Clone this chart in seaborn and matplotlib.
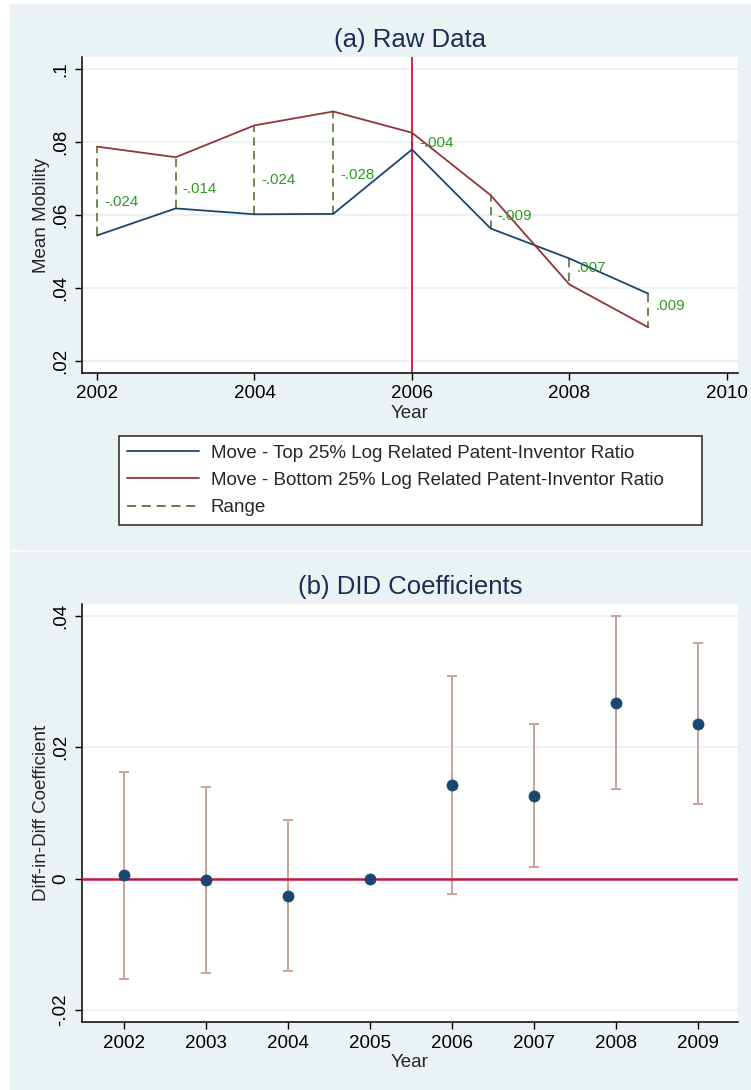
import numpy as np
import pandas as pd
import matplotlib
matplotlib.use("Agg")
import matplotlib.pyplot as plt
import seaborn as sns
from matplotlib.patches import Rectangle
from matplotlib.lines import Line2D

# ---- data ----
years = [2002, 2003, 2004, 2005, 2006, 2007, 2008, 2009]
top25 = [0.0544, 0.0618, 0.0602, 0.0603, 0.0779, 0.0563, 0.0481, 0.0385]
bottom25 = [0.0787, 0.0758, 0.0845, 0.0883, 0.0825, 0.0654, 0.0410, 0.0293]
range_labels = ["-.024", "-.014", "-.024", "-.028", "-.004", "-.009", ".007", ".009"]

did_coef = [0.0005, -0.0002, -0.0026, 0.0000, 0.0142, 0.0126, 0.0268, 0.0236]
did_hi = [0.0162, 0.0139, 0.0089, np.nan, 0.0308, 0.0235, 0.0399, 0.0359]
did_lo = [-0.0153, -0.0143, -0.0140, np.nan, -0.0024, 0.0018, 0.0136, 0.0113]

top_yticks = [0.02, 0.04, 0.06, 0.08, 0.1]
top_yticklabels = [".02", ".04", ".06", ".08", ".1"]
top_xticks = [2002, 2004, 2006, 2008, 2010]
bot_yticks = [-0.02, 0, 0.02, 0.04]
bot_yticklabels = ["-.02", "0", ".02", ".04"]

lbl_top = "Move - Top 25% Log Related Patent-Inventor Ratio"
lbl_bot = "Move - Bottom 25% Log Related Patent-Inventor Ratio"

# colours (Stata s2color-ish)
navy = "#1a476f"
maroon = "#90353b"
forest = "#55752f"
txtgreen = "#2a9a22"
cranberry = "#c8173f"
rose = "#c9a39c"
bg = "#eaf2f3"
titlec = "#1c2c55"

sns.set_style("ticks")
plt.rcParams["font.family"] = ["Liberation Sans", "DejaVu Sans"]

fig = plt.figure(figsize=(7.51, 10.90), dpi=100)
fig.patch.set_facecolor("white")
W, H = 751, 1090
fig.patches.append(Rectangle((10 / W, 1 - 549 / H), 1 - 10 / W, (549 - 4) / H,
                             transform=fig.transFigure, color=bg, zorder=-10))
fig.patches.append(Rectangle((10 / W, 1 - 1089 / H), 1 - 10 / W, (1089 - 552) / H,
                             transform=fig.transFigure, color=bg, zorder=-10))

ax1 = fig.add_axes([82 / W, 1 - 373 / H, (738 - 82) / W, (373 - 57) / H])
ax2 = fig.add_axes([82 / W, 1 - 1022 / H, (738 - 82) / W, (1022 - 604) / H])


def style_axes(ax):
    ax.set_facecolor("white")
    for s in ["top", "right"]:
        ax.spines[s].set_visible(False)
    for s in ["left", "bottom"]:
        ax.spines[s].set_linewidth(1.1)
        ax.spines[s].set_color("black")
    ax.tick_params(axis="both", direction="out", length=5, width=1.0, labelsize=13.5,
                   pad=4, colors="black")
    ax.grid(axis="y", color=bg, linewidth=1.6)
    ax.set_axisbelow(True)


# ---- (a) Raw data ----
df = pd.DataFrame({"year": years * 2,
                   "value": top25 + bottom25,
                   "group": [lbl_top] * len(years) + [lbl_bot] * len(years)})
style_axes(ax1)
sns.lineplot(data=df, x="year", y="value", hue="group",
             palette={lbl_top: navy, lbl_bot: maroon}, linewidth=1.3,
             legend=False, ax=ax1, zorder=3)
ax1.vlines(years, top25, bottom25, colors=forest, linestyles=(0, (5, 3.2)),
           linewidth=1.2, zorder=2)
for yr, t, b, lab in zip(years, top25, bottom25, range_labels):
    ax1.text(yr + 0.09, 0.62 * t + 0.38 * b, lab, color=txtgreen, fontsize=10.8,
             ha="left", va="center", zorder=4)
ax1.axvline(2006, color=cranberry, linewidth=1.3, zorder=2)
ax1.set_xlim(2001.81, 2010.14)
ax1.set_ylim(0.0168, 0.1032)
ax1.set_xticks(top_xticks)
ax1.set_yticks(top_yticks)
ax1.set_yticklabels(top_yticklabels)
plt.setp(ax1.get_yticklabels(), rotation=90, va="center")
ax1.set_xlabel("Year", fontsize=13.5, labelpad=2)
ax1.set_ylabel("Mean Mobility", fontsize=13.5, labelpad=2)
ax1.set_title("(a) Raw Data", fontsize=18.5, color=titlec, pad=7.5)

handles = [Line2D([], [], color=navy, lw=1.3),
           Line2D([], [], color=maroon, lw=1.3),
           Line2D([], [], color=forest, lw=1.3, linestyle=(0, (5, 3.2)))]
leg = fig.legend(handles, [lbl_top, lbl_bot, "Range"], loc="upper left",
                 bbox_to_anchor=(119 / W, 1 - 436 / H - 0.01, (702 - 119) / W, 0.01),
                 mode="expand", fontsize=13.5, framealpha=1,
                 frameon=True, fancybox=False, handlelength=3.8, handletextpad=0.65,
                 borderpad=0.45, labelspacing=0.55, borderaxespad=0)
leg.get_frame().set_edgecolor("#333333")
leg.get_frame().set_linewidth(1.2)
leg.get_frame().set_facecolor("white")

# ---- (b) DID coefficients ----
style_axes(ax2)
coef = np.array(did_coef)
yerr = np.vstack([coef - np.array(did_lo), np.array(did_hi) - coef])
ax2.errorbar(years, did_coef, yerr=yerr, fmt="none", ecolor=rose, elinewidth=1.4,
             capsize=3.8, capthick=1.4, zorder=2)
ax2.axhline(0, color=cranberry, linewidth=1.8, zorder=3)
sns.scatterplot(x=years, y=did_coef, color=navy, s=64, edgecolor=navy,
                linewidth=0.5, ax=ax2, zorder=4)
ax2.set_xlim(2001.49, 2009.49)
ax2.set_ylim(-0.0218, 0.0418)
ax2.set_xticks(years)
ax2.set_yticks(bot_yticks)
ax2.set_yticklabels(bot_yticklabels)
plt.setp(ax2.get_yticklabels(), rotation=90, va="center")
ax2.set_xlabel("Year", fontsize=13.5, labelpad=2)
ax2.set_ylabel("Diff-in-Diff Coefficient", fontsize=13.5, labelpad=2)
ax2.set_title("(b) DID Coefficients", fontsize=18.5, color=titlec, pad=7.5)

fig.savefig("out.png", dpi=100, facecolor=fig.get_facecolor())
